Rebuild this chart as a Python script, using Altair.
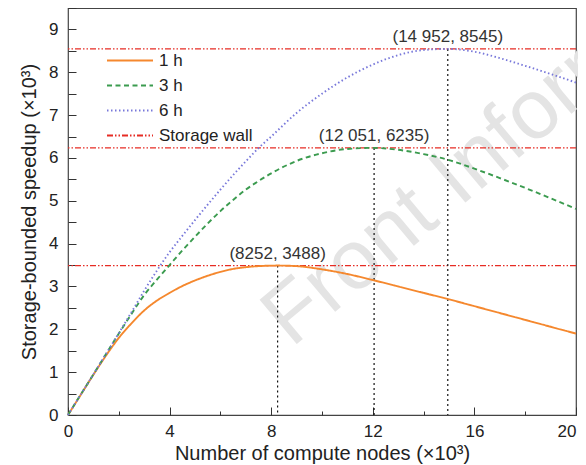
import altair as alt
import pandas as pd

# ---- data ----
series_names = ["1 h", "3 h", "6 h", "Storage wall"]

x_1h = [0, 0.5, 1, 1.5, 2, 2.5, 3, 3.5, 4, 4.5, 5, 5.5, 6, 6.5, 7, 7.5, 8.252,
        9, 10, 11, 12, 13, 14, 15, 16, 17, 18, 19, 20]
y_1h = [0, 0.47, 0.94, 1.39, 1.80, 2.14, 2.44, 2.67, 2.85, 3.01, 3.14, 3.25, 3.34,
        3.41, 3.45, 3.475, 3.488, 3.475, 3.40, 3.29, 3.15, 3.00, 2.85, 2.70, 2.54,
        2.38, 2.22, 2.06, 1.90]

x_3h = [0, 1, 2, 2.5, 3, 3.5, 4, 4.5, 5, 5.5, 6, 6.5, 7, 7.5, 8, 9, 10, 11, 12.051,
        13, 14, 15, 16, 17, 18, 19, 20]
y_3h = [0, 0.95, 1.90, 2.36, 2.80, 3.16, 3.50, 3.84, 4.16, 4.47, 4.76, 5.02, 5.26,
        5.46, 5.64, 5.93, 6.11, 6.21, 6.235, 6.19, 6.09, 5.95, 5.75, 5.53, 5.30,
        5.06, 4.81]

x_6h = [0, 1, 2, 2.5, 3, 3.5, 4, 4.5, 5, 5.5, 6, 6.5, 7, 7.5, 8, 9, 10, 11, 12, 13,
        14, 14.952, 16, 17, 18, 19, 20]
y_6h = [0, 0.95, 1.91, 2.40, 2.90, 3.37, 3.80, 4.18, 4.55, 4.91, 5.26, 5.60, 5.92,
        6.23, 6.50, 7.05, 7.50, 7.88, 8.18, 8.40, 8.52, 8.545, 8.48, 8.33, 8.15,
        7.96, 7.76]

peak_x = [8.252, 12.051, 14.952]
peak_y = [3.488, 6.235, 8.545]
peak_labels = ["(8252, 3488)", "(12 051, 6235)", "(14 952, 8545)"]

x_major_ticks = [0, 4, 8, 12, 16, 20]
x_minor_ticks = [2, 6, 10, 14, 18]
y_labels = [0, 1, 2, 3, 4, 5, 6, 7, 8, 9]
y_ticks = [i / 2 for i in range(20)]

watermark_text = ["Front Inform"]

# ---- tables ----
lines_df = pd.concat([
    pd.DataFrame({"x": x_1h, "y": y_1h, "series": "1 h"}),
    pd.DataFrame({"x": x_3h, "y": y_3h, "series": "3 h"}),
    pd.DataFrame({"x": x_6h, "y": y_6h, "series": "6 h"}),
], ignore_index=True)
peaks_df = pd.DataFrame({"px": peak_x, "py": peak_y, "label": peak_labels,
                         "series": "Storage wall"})

FONT = "Liberation Sans"
W, H = 508, 407
colors = ["#f5882e", "#3b9b4f", "#7878da", "#e62c24"]
dashes = [[1, 0], [5, 3.5], [1.5, 2.5], [6, 2, 1.5, 2, 1.5, 2]]

xs = alt.Scale(domain=[0, 20], nice=False, zero=False)
ys = alt.Scale(domain=[0, 9.5], nice=False, zero=False)

legend = alt.Legend(title=None, orient="none", legendX=38, legendY=40,
                    symbolType="stroke", symbolSize=2116, symbolStrokeWidth=1.8,
                    labelFont=FONT, labelFontSize=17, labelColor="#222",
                    labelOffset=5, padding=0, rowPadding=0, clipHeight=25)
color_enc = alt.Color("series:N", scale=alt.Scale(domain=series_names, range=colors),
                      legend=legend)
dash_enc = alt.StrokeDash("series:N", scale=alt.Scale(domain=series_names, range=dashes),
                          legend=legend)

watermark = alt.Chart(pd.DataFrame({"t": watermark_text})).mark_text(
    angle=320, align="left", baseline="alphabetic", fontSize=84,
    color="#e4e4e4", font=FONT
).encode(
    x=alt.X(datum=8.8, scale=xs, axis=None),
    y=alt.Y(datum=1.55, scale=ys, axis=None),
    text="t:N",
)

walls = alt.Chart(peaks_df).mark_rule(strokeWidth=1.3).encode(
    y=alt.Y("py:Q", scale=ys,
            axis=alt.Axis(orient="right", offset=-W, values=y_ticks, tickSize=8,
                          tickColor="#333", labels=False, domain=False, grid=False,
                          title=None)),
    color=color_enc,
    strokeDash=dash_enc,
)

vlines = alt.Chart(peaks_df).mark_rule(color="#111", strokeWidth=1.2,
                                       strokeDash=[2, 3]).encode(
    x=alt.X("px:Q", scale=xs,
            axis=alt.Axis(orient="top", offset=-H, values=x_major_ticks, tickSize=8,
                          tickColor="#333", labels=False, domain=False, grid=False,
                          title=None)),
    y=alt.Y("py:Q", scale=ys, axis=None),
    y2=alt.Y2(datum=0),
)

lines = alt.Chart(lines_df).mark_line(strokeWidth=1.9, interpolate="monotone").encode(
    x=alt.X("x:Q", scale=xs,
            axis=alt.Axis(orient="bottom", values=x_major_ticks, ticks=False, tickSize=0,
                          domain=False, grid=False, labelPadding=8, labelFlush=False,
                          labelAlign={"expr": "datum.value == 20 ? 'right' : 'center'"},
                          title="Number of compute nodes (×10³)", titlePadding=4)),
    y=alt.Y("y:Q", scale=ys,
            axis=alt.Axis(orient="left", values=y_labels, ticks=False, tickSize=0,
                          domain=False, grid=False, labelPadding=10, labelFlush=False,
                          title="Storage-bounded speedup (×10³)", titlePadding=9)),
    color=color_enc,
    strokeDash=dash_enc,
    detail="series:N",
)

labels = alt.Chart(peaks_df).mark_text(
    align="center", baseline="bottom", dy=-3, fontSize=17, font=FONT, color="#333"
).encode(
    x=alt.X("px:Q", scale=xs,
            axis=alt.Axis(orient="top", offset=-H, values=x_minor_ticks, tickSize=4,
                          tickColor="#333", labels=False, domain=False, grid=False,
                          title=None)),
    y=alt.Y("py:Q", scale=ys, axis=None),
    text="label:N",
)

chart = alt.layer(watermark, walls, vlines, lines, labels).resolve_axis(
    x="independent", y="independent"
).properties(
    width=W, height=H,
    autosize=alt.AutoSizeParams(type="none"),
    padding={"left": 60, "top": 0, "right": 2, "bottom": 50},
).configure_view(
    stroke="#444", strokeWidth=1.2
).configure_axis(
    labelFont=FONT, labelFontSize=17, labelColor="#222",
    titleFont=FONT, titleFontSize=20, titleFontWeight="normal", titleColor="#222",
)

chart.save("out.html", embed_options={"renderer": "svg", "actions": False})
